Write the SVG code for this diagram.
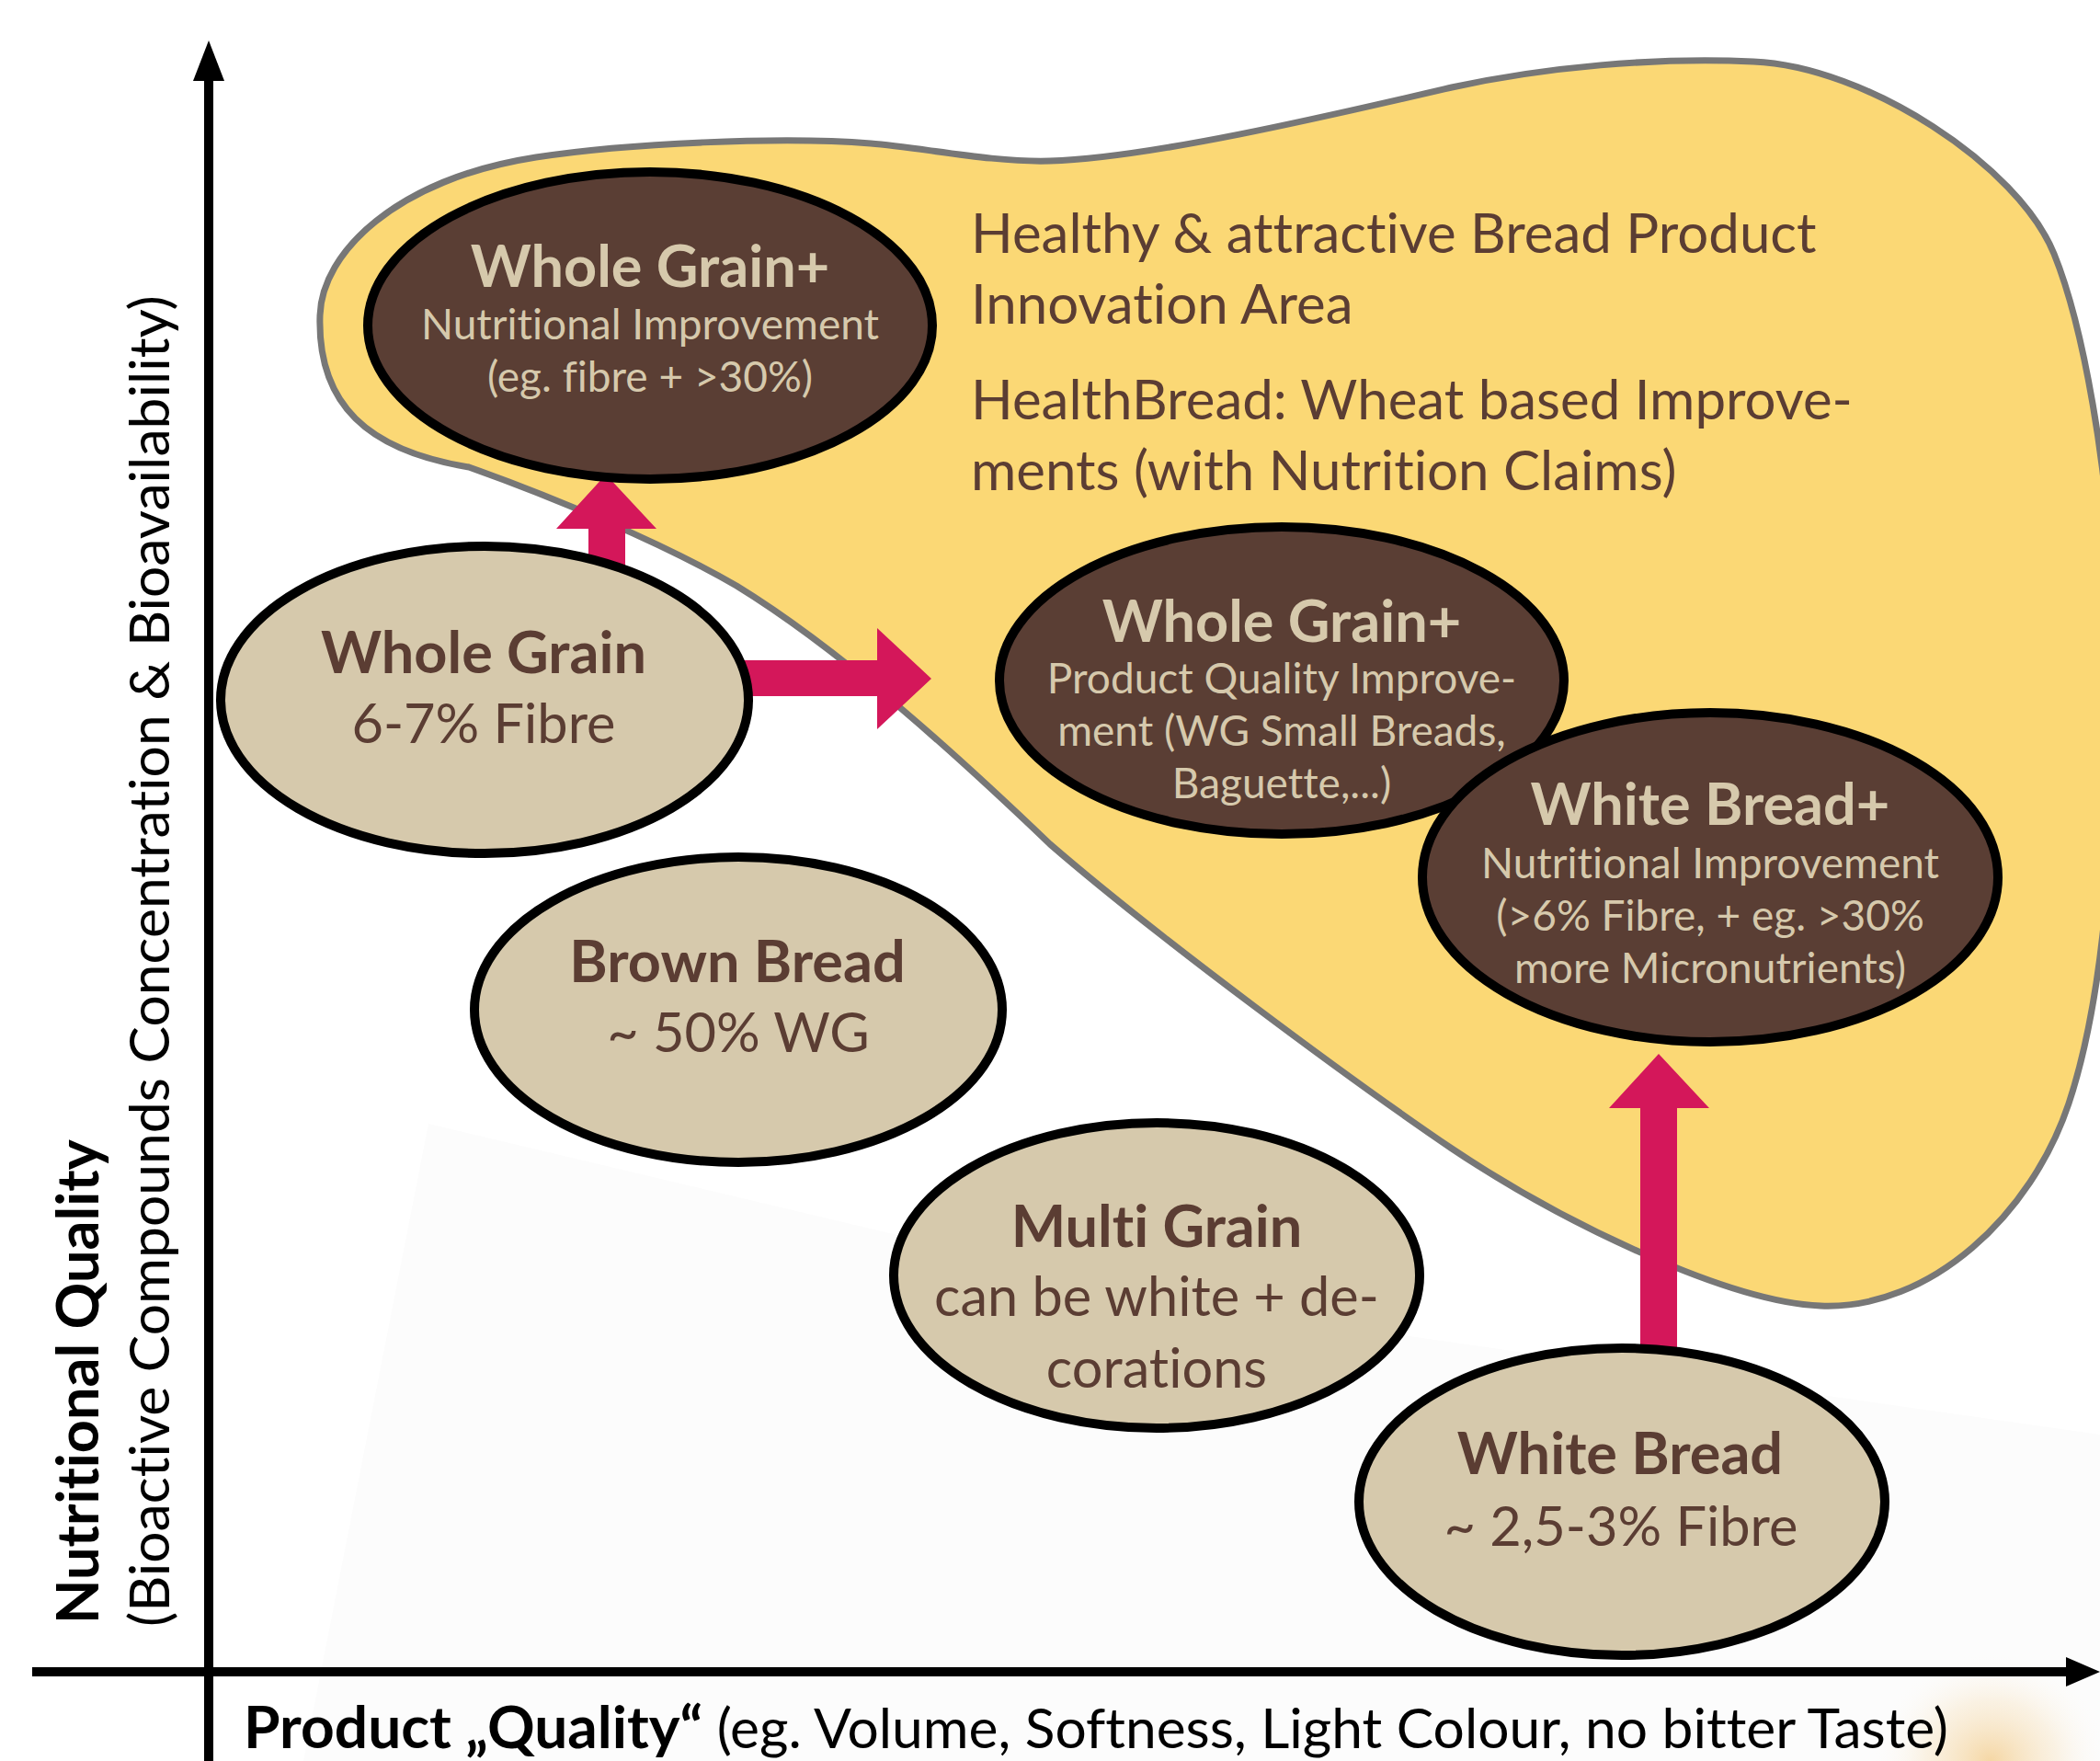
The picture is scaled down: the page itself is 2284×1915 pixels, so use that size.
<svg xmlns="http://www.w3.org/2000/svg" width="2284" height="1915" viewBox="0 0 2284 1915">
  <defs>
    <style>
      text { font-variant-ligatures: none; }
      .dark { fill: #5A3E34; stroke: #000; stroke-width: 10; }
      .light { fill: #D6C9AC; stroke: #000; stroke-width: 10; }
      .t { font-family: Lato, "Open Sans", "Liberation Sans", sans-serif; text-anchor: middle; }
      .b { font-weight: bold; font-size: 63px; }
      .r { font-size: 46px; }
      .r2 { font-size: 59.5px; }
      .beige { fill: #D6C9AC; }
      .brown { fill: #5B3D33; }
      .arrow { fill: #D4175A; }
      .head { font-family: Lato, "Open Sans", "Liberation Sans", sans-serif; font-size: 60px; fill: #5B3D33; }
      .axis { font-family: Lato, "Open Sans", "Liberation Sans", sans-serif; fill: #000; }
    </style>
    <radialGradient id="glow" cx="0.5" cy="0.5" r="0.5">
      <stop offset="0" stop-color="#F0BE6A" stop-opacity="0.6"/>
      <stop offset="0.55" stop-color="#F5D9A8" stop-opacity="0.3"/>
      <stop offset="1" stop-color="#ffffff" stop-opacity="0"/>
    </radialGradient>
  </defs>

  <rect width="2284" height="1915" fill="#fff"/>

  <g id="background">
    <polygon points="466,1222 1300,1420 2284,1560 2284,1915 330,1915" fill="#FCFCFC"/>
    <ellipse cx="2165" cy="1915" rx="130" ry="120" fill="url(#glow)"/>
  </g>

  <g id="innovation-area">
    <path d="M348,343 C350,275 430,195 583,171 C680,156 850,148 947,156 C1000,160 1080,177 1142,175 C1250,172 1450,125 1579,95 C1680,73 1800,62 1907,67 C2030,72 2195,180 2234,276 C2262,345 2296,500 2300,700 C2302,900 2290,1080 2250,1200 C2210,1320 2100,1425 1980,1420 C1880,1416 1700,1330 1579,1249 C1470,1175 1260,1020 1142,918 C1050,830 920,710 801,637 C720,590 600,540 510,508 C400,490 345,440 348,343 Z" fill="#FBD875" stroke="#777777" stroke-width="7"/>
    <text class="head" x="1056" y="275">Healthy &amp; attractive Bread Product</text>
    <text class="head" x="1056" y="352">Innovation Area</text>
    <text class="head" x="1056" y="456">HealthBread: Wheat based Improve-</text>
    <text class="head" x="1056" y="533">ments (with Nutrition Claims)</text>
  </g>

  <g id="axes">
    <line x1="227" y1="80" x2="227" y2="1915" stroke="#000" stroke-width="10"/>
    <polygon points="227,44 210,88 244,88" fill="#000"/>
    <line x1="35" y1="1818" x2="2250" y2="1818" stroke="#000" stroke-width="10"/>
    <polygon points="2284,1818 2247,1802 2247,1834" fill="#000"/>
    <text class="axis" transform="translate(107,1766) rotate(-90)" font-size="63" font-weight="bold">Nutritional Quality</text>
    <text class="axis" transform="translate(184,1769) rotate(-90)" font-size="60.6">(Bioactive Compounds Concentration &amp; Bioavailability)</text>
    <text class="axis" x="265" y="1901" font-size="60.5"><tspan font-weight="bold" font-size="64">Product „Quality“</tspan> (eg. Volume, Softness, Light Colour, no bitter Taste)</text>
  </g>

  <g id="connectors">
    <polygon class="arrow" points="640,660 640,575 605,575 659,516 714,575 680,575 680,660"/>
    <polygon class="arrow" points="780,718 954,718 954,683 1013,738 954,793 954,757 780,757"/>
    <polygon class="arrow" points="1784,1500 1784,1205 1750,1205 1804,1146 1859,1205 1824,1205 1824,1500"/>
  </g>

  <g id="whole-grain-plus-nutritional">
    <ellipse class="dark" cx="707" cy="354" rx="307" ry="167"/>
    <text class="t b beige" x="707" y="312">Whole Grain+</text>
    <text class="t r beige" x="707" y="369">Nutritional Improvement</text>
    <text class="t r beige" x="707" y="426">(eg. fibre + &gt;30%)</text>
  </g>

  <g id="whole-grain">
    <ellipse class="light" cx="527" cy="761" rx="287" ry="167"/>
    <text class="t b brown" x="526" y="732">Whole Grain</text>
    <text class="t r2 brown" x="526" y="808">6-7% Fibre</text>
  </g>

  <g id="brown-bread">
    <ellipse class="light" cx="803" cy="1098" rx="287" ry="166"/>
    <text class="t b brown" x="802" y="1068">Brown Bread</text>
    <text class="t r2 brown" x="803" y="1144">~ 50% WG</text>
  </g>

  <g id="multi-grain">
    <ellipse class="light" cx="1258" cy="1387" rx="286" ry="166"/>
    <text class="t b brown" x="1258" y="1356">Multi Grain</text>
    <text class="t r2 brown" x="1258" y="1431">can be white + de-</text>
    <text class="t r2 brown" x="1258" y="1509">corations</text>
  </g>

  <g id="white-bread">
    <ellipse class="light" cx="1764" cy="1633" rx="286" ry="167"/>
    <text class="t b brown" x="1762" y="1603">White Bread</text>
    <text class="t r2 brown" x="1763" y="1681">~ 2,5-3% Fibre</text>
  </g>

  <g id="whole-grain-plus-quality">
    <ellipse class="dark" cx="1394" cy="740" rx="307" ry="167"/>
    <text class="t b beige" x="1394" y="698">Whole Grain+</text>
    <text class="t r beige" x="1394" y="754">Product Quality Improve-</text>
    <text class="t r beige" x="1394" y="811">ment (WG Small Breads,</text>
    <text class="t r beige" x="1394" y="868">Baguette,...)</text>
  </g>

  <g id="white-bread-plus">
    <ellipse class="dark" cx="1860" cy="954" rx="313" ry="179"/>
    <text class="t b beige" x="1860" y="897">White Bread+</text>
    <text class="t r beige" x="1860" y="955">Nutritional Improvement</text>
    <text class="t r beige" x="1860" y="1012">(&gt;6% Fibre, + eg. &gt;30%</text>
    <text class="t r beige" x="1860" y="1069">more Micronutrients)</text>
  </g>
</svg>
